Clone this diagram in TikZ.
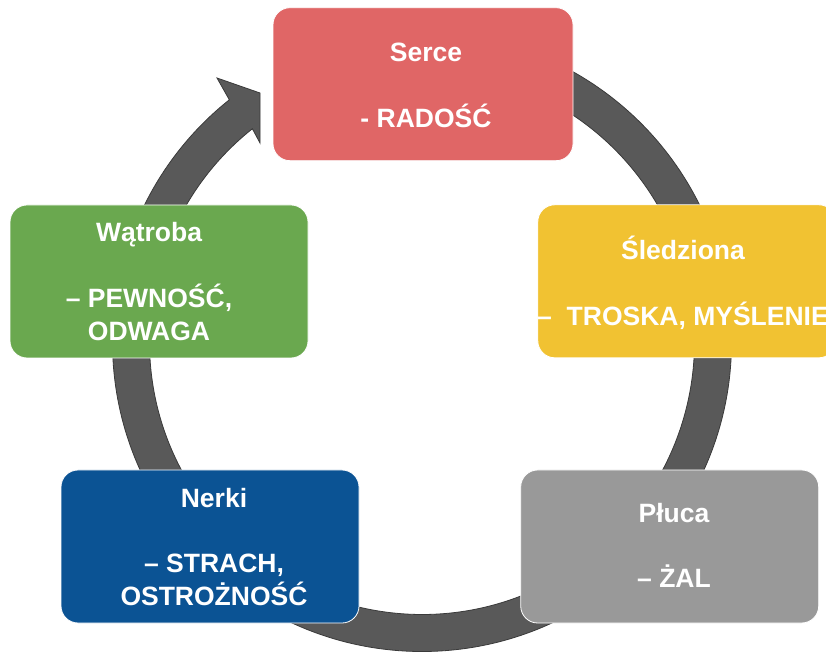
\documentclass[tikz,border=0pt]{standalone}
\usepackage{fontspec}
\setmainfont{Liberation Sans}
\usetikzlibrary{calc}
\definecolor{ringgray}{HTML}{595959}
\definecolor{ringedge}{HTML}{3A3A3A}
\definecolor{sercecol}{HTML}{E06666}
\definecolor{sledcol}{HTML}{F1C232}
\definecolor{watrcol}{HTML}{6AA84F}
\definecolor{nerkicol}{HTML}{0B5394}
\definecolor{plucacol}{HTML}{999999}
\begin{document}
\begin{tikzpicture}[x=1pt,y=1pt,
  box/.style={rectangle, rounded corners=17pt, minimum width=298pt, minimum height=153pt, inner sep=0pt, draw=white, line width=0.8pt},
  lbl/.style={anchor=base, inner sep=0pt, text=white, font=\fontsize{26.5}{32.6}\bfseries\selectfont}]
\useasboundingbox (0,0) rectangle (826,653);
\coordinate (c) at (422,311);
% ring with arrow head
\fill[ringgray, draw=ringedge, line width=0.8pt]
  ($(c)+(90:309.5pt)$) arc[start angle=90, end angle=-231.5, radius=309.5pt]
  -- (217,575) -- (260,560) -- (260,510)
  -- ($(c)+(128.5:272.5pt)$) arc[start angle=128.5, end angle=450, radius=272.5pt] -- cycle;
% boxes
\node[box, fill=sercecol, minimum width=300pt] (serce) at (423,568.8) {};
\node[box, fill=sledcol] (sledziona) at (686.8,371.7) {};
\node[box, fill=watrcol] (watroba) at (159,371.5) {};
\node[box, fill=nerkicol] (nerki) at (210,106.5) {};
\node[box, fill=plucacol] (pluca) at (669.7,106.5) {};
% texts
\node[lbl] (serceT) at (426,591.3) {\begin{tabular}[t]{@{}c@{}}Serce\\ \\- RADOŚĆ\end{tabular}};
\node[lbl] (sledzionaT) at (683,393.7) {\begin{tabular}[t]{@{}c@{}}Śledziona\\ \\–~~TROSKA, MYŚLENIE\end{tabular}};
\node[lbl] (watrobaT) at (149,411) {\begin{tabular}[t]{@{}c@{}}Wątroba\\ \\– PEWNOŚĆ,\\ODWAGA\end{tabular}};
\node[lbl] (nerkiT) at (214,145.7) {\begin{tabular}[t]{@{}c@{}}Nerki\\ \\– STRACH,\\OSTROŻNOŚĆ\end{tabular}};
\node[lbl] (plucaT) at (674,130.3) {\begin{tabular}[t]{@{}c@{}}Płuca\\ \\– ŻAL\end{tabular}};
\end{tikzpicture}
\end{document}
